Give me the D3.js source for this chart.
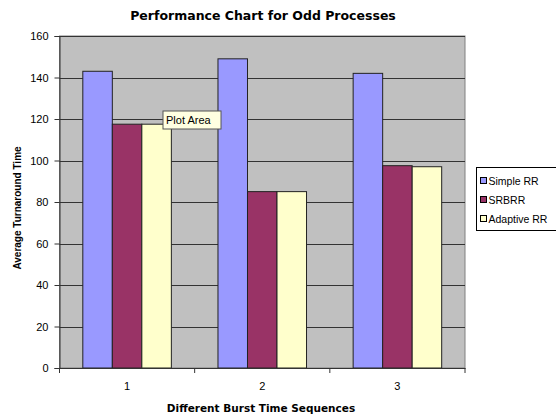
<!DOCTYPE html>
<html><head><meta charset="utf-8">
<script src="https://cdn.jsdelivr.net/npm/d3@7"></script>
<style>body{margin:0;background:#fff}svg{display:block}text{font-family:Arial,"Liberation Sans",sans-serif}</style>
</head><body>
<svg id="c" width="556" height="419"></svg>
<script>
const categories = ["1", "2", "3"];
const seriesNames = ["Simple RR", "SRBRR", "Adaptive RR"];
const simpleRR = [143, 149, 142];
const srbrr = [117.5, 85, 97.5];
const adaptiveRR = [117.5, 85, 97];
const yTicks = [0, 20, 40, 60, 80, 100, 120, 140, 160];
const colors = ["#9999ff", "#993366", "#ffffcc"];

const series = [simpleRR, srbrr, adaptiveRR];
const svg = d3.select("#c");
const m = {l: 59.5, r: 465, t: 36, b: 368};

const x = d3.scaleBand().domain(categories).range([m.l, m.r]).paddingInner(0).paddingOuter(0);
const x1 = d3.scaleBand().domain(seriesNames).range([0, x.bandwidth()]).paddingInner(0).paddingOuter(0.79);
const y = d3.scaleLinear().domain([0, 160]).range([m.b, m.t]);

// plot area
svg.append("rect").attr("x", m.l).attr("y", m.t).attr("width", m.r - m.l).attr("height", m.b - m.t)
  .attr("fill", "#c0c0c0").attr("stroke", "#808080").attr("stroke-width", 1);

// gridlines
svg.append("g").selectAll("line").data(yTicks.filter(d => d > 0)).join("line")
  .attr("x1", m.l).attr("x2", m.r)
  .attr("y1", d => Math.round(y(d)) + 0.5).attr("y2", d => Math.round(y(d)) + 0.5)
  .attr("stroke", "#333").attr("stroke-width", 1);

// bars
const g = svg.append("g");
categories.forEach((c, ci) => {
  seriesNames.forEach((s, si) => {
    g.append("rect")
      .attr("x", x(c) + x1(s))
      .attr("y", y(series[si][ci]))
      .attr("width", x1.bandwidth())
      .attr("height", y(0) - y(series[si][ci]))
      .attr("fill", colors[si]).attr("stroke", "#222").attr("stroke-width", 1);
  });
});

// y axis
const ya = svg.append("g").attr("transform", `translate(${m.l},0)`)
  .call(d3.axisLeft(y).tickValues(yTicks).tickSize(5).tickPadding(6));
ya.select(".domain").attr("stroke", "#333");
ya.selectAll("line").attr("stroke", "#333");
ya.selectAll("text").attr("font-size", 11).attr("fill", "#000");

// x axis
const xa = svg.append("g").attr("transform", `translate(0,${m.b})`)
  .call(d3.axisBottom(x).tickSize(0).tickPadding(14));
xa.select(".domain").attr("stroke", "#333");
xa.selectAll("text").attr("font-size", 11).attr("fill", "#000");
// boundary ticks between categories
svg.append("g").selectAll("line").data(categories.map(c => x(c)).concat([x.range()[1]])).join("line")
  .attr("x1", d => d).attr("x2", d => d).attr("y1", m.b).attr("y2", m.b + 5).attr("stroke", "#333");

// titles
svg.append("text").attr("x", 263).attr("y", 20).attr("text-anchor", "middle")
  .style("font-family", "'DejaVu Sans', Verdana, sans-serif")
  .attr("font-size", 12.5).attr("font-weight", "bold").text("Performance Chart for Odd Processes");
svg.append("text").attr("x", 261).attr("y", 412).attr("text-anchor", "middle")
  .style("font-family", "'DejaVu Sans', Verdana, sans-serif")
  .attr("font-size", 10.5).attr("font-weight", "bold").text("Different Burst Time Sequences");
svg.append("text").attr("transform", `translate(21,208) rotate(-90)`)
  .attr("text-anchor", "middle").attr("font-size", 10).attr("font-weight", "bold").text("Average Turnaround Time");

// tooltip "Plot Area"
const tt = svg.append("g").attr("transform", "translate(163,111)");
tt.append("rect").attr("width", 58).attr("height", 18).attr("fill", "#ffffe1").attr("stroke", "#555");
tt.append("text").attr("x", 3).attr("y", 13).attr("font-size", 11).text("Plot Area");

// legend
const lg = svg.append("g").attr("transform", "translate(476.5,167.5)");
lg.append("rect").attr("width", 90).attr("height", 63).attr("fill", "#fff").attr("stroke", "#000");
seriesNames.forEach((s, i) => {
  const yy = 13 + i * 19;
  lg.append("rect").attr("x", 4).attr("y", yy - 3).attr("width", 6).attr("height", 6)
    .attr("fill", colors[i]).attr("stroke", "#000");
  lg.append("text").attr("x", 12).attr("y", yy + 4).attr("font-size", 10.5).text(s);
});
</script>
</body></html>
